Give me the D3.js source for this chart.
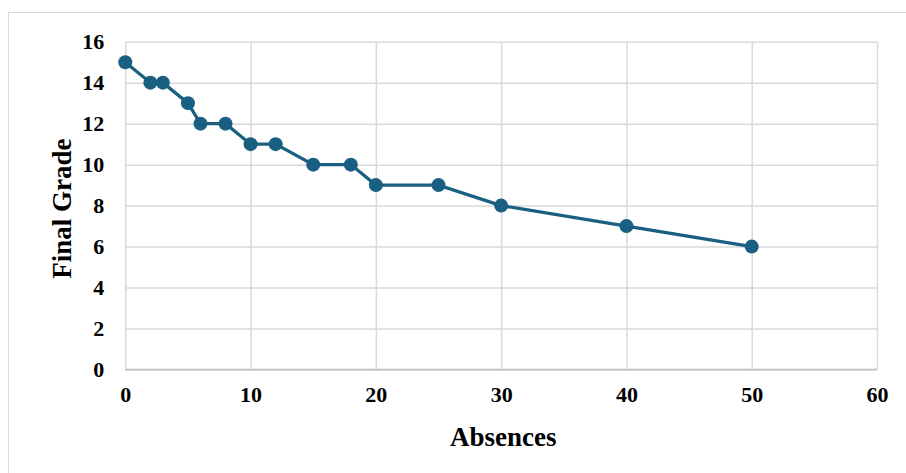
<!DOCTYPE html>
<html><head><meta charset="utf-8">
<script src="https://cdn.jsdelivr.net/npm/d3@7"></script>
<style>
html,body{margin:0;padding:0;background:#fff;}
svg{display:block;}
text{font-family:"Liberation Serif","Times New Roman",serif;font-weight:bold;fill:#000;}
</style></head>
<body>
<svg id="c" width="906" height="473"></svg>
<script>
const absences = [0, 2, 3, 5, 6, 8, 10, 12, 15, 18, 20, 25, 30, 40, 50];
const finalGrade = [15, 14, 14, 13, 12, 12, 11, 11, 10, 10, 9, 9, 8, 7, 6];
const xTicks = [0, 10, 20, 30, 40, 50, 60];
const yTicks = [0, 2, 4, 6, 8, 10, 12, 14, 16];
const xTitle = "Absences";
const yTitle = "Final Grade";

const svg = d3.select("#c");
const L = 125.3, R = 877, T = 41.7, B = 369.5;
const FONT = "'Liberation Serif','Times New Roman',serif";

svg.append("rect").attr("x", 8.5).attr("y", 12.5).attr("width", 920).attr("height", 500)
  .attr("fill", "#fff").attr("stroke", "#d9d9d9").attr("stroke-width", 1);

const x = d3.scaleLinear().domain([0, 60]).range([L, R]);
const y = d3.scaleLinear().domain([0, 16]).range([B, T]);

const gx = svg.append("g").attr("transform", `translate(0,${B})`)
  .call(d3.axisBottom(x).tickValues(xTicks).tickSize(-(B - T)).tickFormat(""));
gx.select(".domain").remove();
gx.selectAll("line").attr("stroke", "#d9d9d9").attr("stroke-width", 1.5);

const gy = svg.append("g").attr("transform", `translate(${L},0)`)
  .call(d3.axisLeft(y).tickValues(yTicks).tickSize(-(R - L)).tickFormat(""));
gy.select(".domain").remove();
gy.selectAll("line").attr("stroke", "#d9d9d9").attr("stroke-width", 1.5);

svg.append("line").attr("x1", L).attr("x2", R).attr("y1", y(0)).attr("y2", y(0))
  .attr("stroke", "#bfbfbf").attr("stroke-width", 1.5);

const xl = svg.append("g").attr("transform", `translate(0,${B})`)
  .call(d3.axisBottom(x).tickValues(xTicks).tickSize(0).tickPadding(17).tickFormat(d3.format("d")));
xl.attr("font-family", FONT).attr("font-size", 22).attr("font-weight", "bold");
xl.select(".domain").remove();
xl.selectAll("text").attr("fill", "#000").style("font-size", "22px");

const yl = svg.append("g").attr("transform", `translate(${L},0)`)
  .call(d3.axisLeft(y).tickValues(yTicks).tickSize(0).tickPadding(21).tickFormat(d3.format("d")));
yl.attr("font-family", FONT).attr("font-size", 22).attr("font-weight", "bold");
yl.select(".domain").remove();
yl.selectAll("text").attr("fill", "#000").style("font-size", "22px");

const pts = absences.map((a, i) => [a, finalGrade[i]]);
svg.append("path").datum(pts)
  .attr("fill", "none").attr("stroke", "#185f82").attr("stroke-width", 3.2)
  .attr("d", d3.line().x(d => x(d[0])).y(d => y(d[1])));

svg.append("g").selectAll("circle").data(pts).join("circle")
  .attr("cx", d => x(d[0])).attr("cy", d => y(d[1])).attr("r", 7)
  .attr("fill", "#185f82");

svg.append("text").attr("x", (L + R) / 2 + 2).attr("y", 445.5).attr("text-anchor", "middle")
  .style("font-size", "27px").text(xTitle);
svg.append("text").attr("transform", `translate(70.5,${(T + B) / 2 + 3}) rotate(-90)`)
  .attr("text-anchor", "middle").style("font-size", "27px").text(yTitle);
</script>
</body></html>
